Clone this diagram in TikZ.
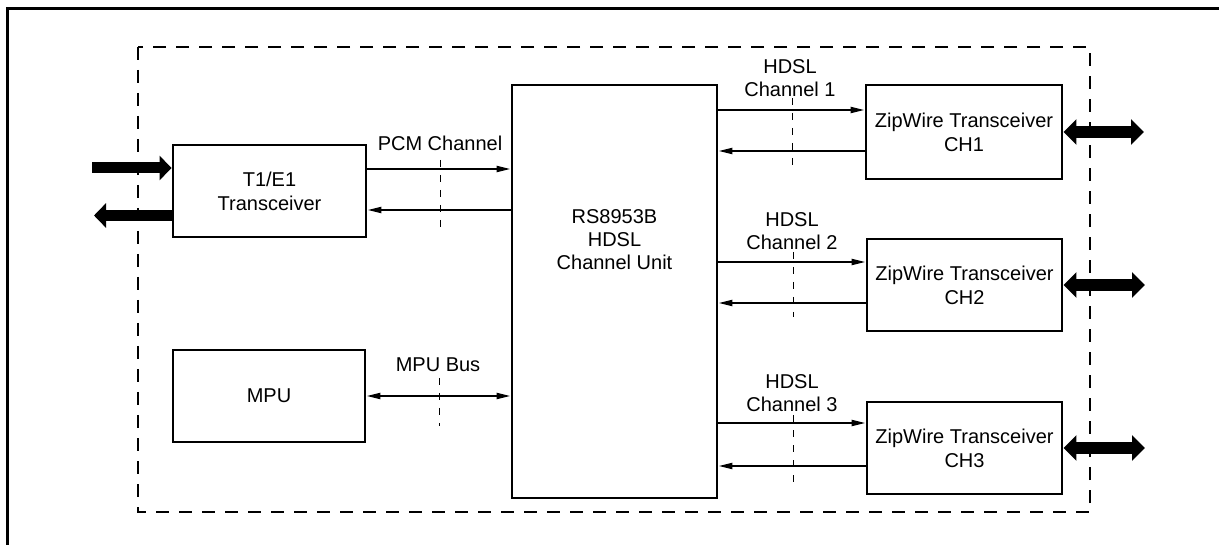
\documentclass[tikz,border=0pt]{standalone}
\usepackage{fontspec}
\setmainfont{Liberation Sans}
\usetikzlibrary{arrows.meta,positioning}

\begin{document}
\begin{tikzpicture}[x=1pt,y=-1pt,
    box/.style={draw,line width=2.9pt,align=center,inner sep=0pt,font=\fontsize{20}{24}\selectfont},
    lbl/.style={align=center,inner sep=0pt,anchor=south,font=\fontsize{20}{23}\selectfont},
    sig/.style={line width=2pt,-{Triangle[length=14pt,width=6pt]}},
    bus/.style={line width=2pt,{Triangle[length=14pt,width=6pt]}-{Triangle[length=14pt,width=6pt]}},
    fat/.style={line width=11pt,-{Triangle[length=12pt,width=24pt]}},
    fatbus/.style={line width=12pt,{Triangle[length=13pt,width=25pt]}-{Triangle[length=13pt,width=25pt]}},
    cut/.style={line width=1pt,dash pattern=on 7pt off 8pt}]
    \useasboundingbox (0,0) rectangle (1219,545);
    % page frame and board outline
    \draw[line width=3pt] (1219,9) -- (7,9) -- (7,545);
    \draw[line width=1.4pt,dash pattern=on 13pt off 10pt] (138,47) rectangle (1090,512);

    \node[box,minimum width=193pt,minimum height=92pt] (t1e1) at (269.5,191) {T1/E1\\Transceiver};
    \node[box,minimum width=192pt,minimum height=92pt] (mpu) at (269,396) {MPU};
    \node[box,minimum width=205pt,minimum height=413pt] (cu) at (614.5,291.5) {};
    \node[lbl,anchor=center] (cutxt) at ([yshift=52pt]cu.center) {RS8953B\\HDSL\\Channel Unit};
    \node[box,minimum width=196pt,minimum height=94pt] (zw1) at (964,132) {ZipWire Transceiver\\CH1};
    \node[box,minimum width=195pt,minimum height=92pt] (zw2) at (964.5,285) {ZipWire Transceiver\\CH2};
    \node[box,minimum width=195pt,minimum height=92pt] (zw3) at (964.5,448) {ZipWire Transceiver\\CH3};

    % line side
    \coordinate (e1in) at (92,168);
    \coordinate (e1out) at (94,215.5);
    \draw[fat] (e1in) -- (e1in -| t1e1.west);
    \draw[fat] (e1out -| t1e1.west) -- (e1out);
    \coordinate (loop1) at (1144,132);
    \coordinate (loop2) at (1145,285);
    \coordinate (loop3) at (1145,448);
    \draw[fatbus] (loop1 -| zw1.east) -- (loop1);
    \draw[fatbus] (loop2 -| zw2.east) -- (loop2);
    \draw[fatbus] (loop3 -| zw3.east) -- (loop3);

    % PCM and MPU bus
    \draw[sig] ([yshift=22pt]t1e1.east) -- ([yshift=22pt]t1e1.east -| cu.west);
    \draw[sig] ([yshift=-19pt]t1e1.east -| cu.west) -- ([yshift=-19pt]t1e1.east);
    \draw[bus] (mpu.east) -- (mpu.east -| cu.west);
    \node[lbl] (pcmlbl) at (440,151) {PCM Channel};
    \node[lbl] (buslbl) at (438,372) {MPU Bus};
    \draw[cut] (440,160) -- (440,227);
    \draw[cut] (439,378) -- (439,426);

    % HDSL channels
    \draw[sig] ([yshift=22pt]zw1.west -| cu.east) -- ([yshift=22pt]zw1.west);
    \draw[sig] ([yshift=-19pt]zw1.west) -- ([yshift=-19pt]zw1.west -| cu.east);
    \draw[sig] ([yshift=23pt]zw2.west -| cu.east) -- ([yshift=23pt]zw2.west);
    \draw[sig] ([yshift=-18pt]zw2.west) -- ([yshift=-18pt]zw2.west -| cu.east);
    \draw[sig] ([yshift=25pt]zw3.west -| cu.east) -- ([yshift=25pt]zw3.west);
    \draw[sig] ([yshift=-18pt]zw3.west) -- ([yshift=-18pt]zw3.west -| cu.east);
    \node[lbl] (hd1lbl) at (790,97) {HDSL\\Channel 1};
    \node[lbl] (hd2lbl) at (792,250) {HDSL\\Channel 2};
    \node[lbl] (hd3lbl) at (792,412) {HDSL\\Channel 3};
    \draw[cut] (792,98) -- (792,165);
    \draw[cut] (793,252) -- (793,317);
    \draw[cut] (793,415) -- (793,482);
\end{tikzpicture}
\end{document}
